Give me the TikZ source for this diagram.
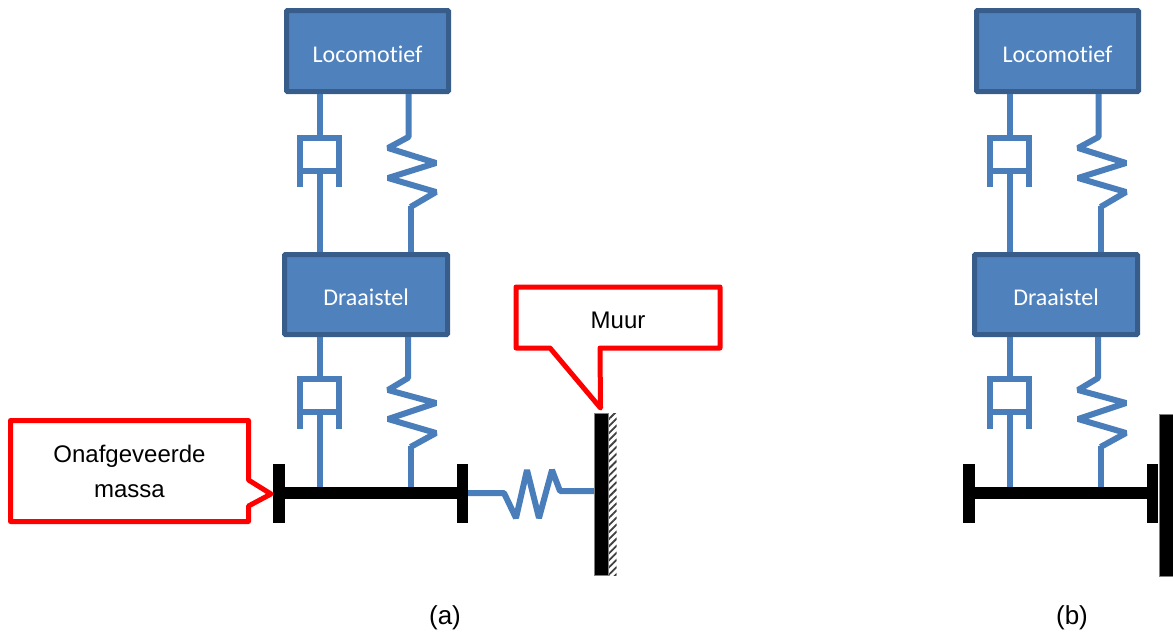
\documentclass[tikz,border=0pt]{standalone}
\usepackage{fontspec}
\setmainfont{Liberation Sans}
\newfontfamily\boxfont[Ligatures=NoCommon]{Carlito}
\usetikzlibrary{patterns, patterns.meta}

\begin{document}
\begin{tikzpicture}[x=1pt, y=-1pt,
    blok/.style={draw=blokrand, fill=blokvul, line width=5pt, rounded corners=1pt, inner sep=0pt, font=\boxfont\fontsize{24}{28}\selectfont, text=white},
    veer/.style={draw=lijn, line width=6pt, line join=bevel},
    staaf/.style={draw=lijn, line width=6pt},
    ballon/.style={draw=red, fill=white, line width=5pt, line join=round},
    zwart/.style={fill=black},
    muurstuk/.style={fill=black, draw=gray, line width=0.4pt, minimum width=14pt, minimum height=162pt, inner sep=0pt},
    tekst/.style={font=\fontsize{24}{35}\selectfont, align=center, inner sep=0pt},
    onderschrift/.style={font=\fontsize{26}{30}\selectfont, inner sep=0pt}]
    \definecolor{blokrand}{HTML}{385D8A}
    \definecolor{blokvul}{HTML}{4F81BD}
    \definecolor{lijn}{HTML}{4A7EBB}
    \useasboundingbox (0,0) rectangle (1173,632);

    % Twee keer hetzelfde model, (a) en (b)
    \foreach \p/\dx in {a/0, b/690} {
        \begin{scope}[xshift=\dx pt]
            \node[blok, minimum width=162pt, minimum height=81pt] (loco\p) at (367.5,51) {\raisebox{-3pt}[\height][\depth]{Locomotief}};
            \node[blok, minimum width=163pt, minimum height=80pt] (draai\p) at (366,294.5) {\raisebox{-3pt}[\height][\depth]{Draaistel}};

            % Bovenste demper en veer
            \coordinate (d1\p) at (loco\p.south -| 320,0);
            \coordinate (d2\p) at (draai\p.north -| 320,0);
            \draw[staaf] (d1\p) -- (320,138);
            \draw[staaf] (300,187) -- (300,138) -- (338.5,138) -- (338.5,187);
            \draw[staaf] (300,171) -- (338.5,171);
            \draw[staaf] (320,171) -- (d2\p);
            \coordinate (v1\p) at (loco\p.south -| 408.5,0);
            \coordinate (v2\p) at (draai\p.north -| 410.5,0);
            \draw[veer] (v1\p) -- (408.5,137) -- (388,148) -- (436,163) -- (388,178) -- (436,192) -- (410.5,207);
            \draw[veer] (410.5,206) -- (v2\p);

            % Onderste demper en veer
            \coordinate (d3\p) at (draai\p.south -| 320,0);
            \coordinate (v3\p) at (draai\p.south -| 408,0);
            \draw[staaf] (d3\p) -- (320,378.5);
            \draw[staaf] (300,429) -- (300,378.5) -- (338.5,378.5) -- (338.5,429);
            \draw[staaf] (300,411.5) -- (338.5,411.5);
            \draw[staaf] (320,411.5) -- (320,488);
            \draw[veer] (v3\p) -- (408,378) -- (388,390) -- (436,403) -- (388,419) -- (436,433) -- (410.5,447);
            \draw[veer] (410.5,446) -- (410.5,488);

            % As met twee platen
            \fill[zwart] (273,464) rectangle (285,523);
            \fill[zwart] (456.5,464) rectangle (468,523);
            \fill[zwart] (280,487) rectangle (460,499);
        \end{scope}
    }

    % Muur (a) met arcering
    \fill[pattern={Lines[angle=45, distance=5pt, line width=1.8pt]}, pattern color=black!75] (608,413) rectangle (616.5,575);
    \node[muurstuk] (muura) at (601,494) {};
    % Muur (b)
    \node[muurstuk] (muurb) at (1166,495) {};

    % Horizontale veer
    \coordinate (h1) at (468,493);
    \coordinate (h2) at (muura.west |- 0,491);
    \draw[veer] (h1) -- (504,493) -- (516,518) -- (527,470) -- (539,518) -- (552,470) -- (560,491) -- (h2);

    % Ballonnen
    \draw[ballon] (10.5,420.5) -- (248.5,420.5) -- (248.5,480) -- (271,494) -- (248.5,506) -- (248.5,521.5) -- (10.5,521.5) -- cycle;
    \node[tekst] (massa) at (129.5,471) {Onafgeveerde\\massa};
    \draw[ballon] (516,287) -- (720,287) -- (720,348) -- (600,348) -- (600.5,408) -- (550,348) -- (516,348) -- cycle;
    \node[tekst] (muur) at (618,320) {Muur};

    \node[onderschrift] (a) at (445,618) {(a)};
    \node[onderschrift] (b) at (1072,618) {(b)};
\end{tikzpicture}
\end{document}
